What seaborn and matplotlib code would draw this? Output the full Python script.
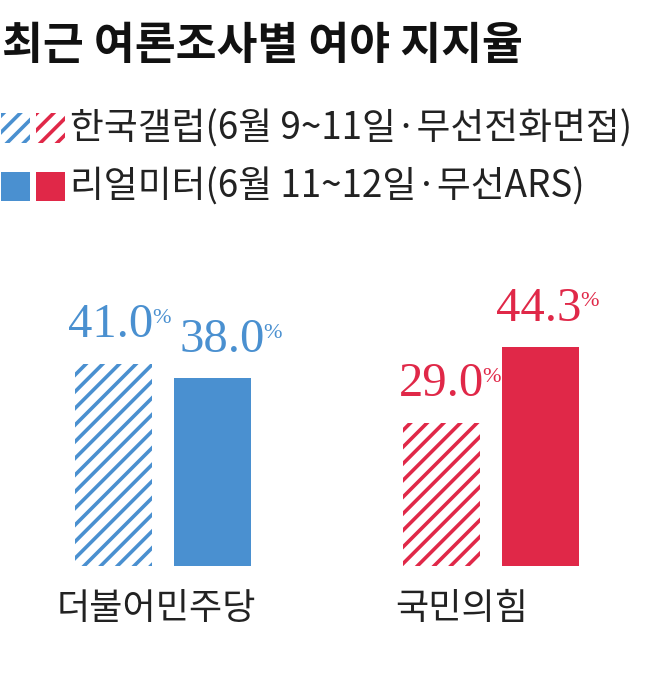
import matplotlib
matplotlib.use('Agg')
import matplotlib.pyplot as plt
import seaborn as sns
import pandas as pd
from matplotlib.patches import Rectangle

# Data
parties = ['더불어민주당', '국민의힘']
surveys = ['한국갤럽', '리얼미터']
gallup = [41.0, 29.0]
realmeter = [38.0, 44.3]
legend_labels = ['한국갤럽(6월 9~11일·무선전화면접)', '리얼미터(6월 11~12일·무선ARS)']
title = '최근 여론조사별 여야 지지율'
party_colors = ['#4A90D0', '#E02848']

W, H = 657, 690

sns.set_theme(style='white')
plt.rcParams['font.family'] = ['Noto Sans CJK KR', 'DejaVu Sans']
plt.rcParams['hatch.linewidth'] = 2.6

df = pd.DataFrame({
    'party': parties * 2,
    'survey': [surveys[0]] * len(parties) + [surveys[1]] * len(parties),
    'value': gallup + realmeter,
})

fig = plt.figure(figsize=(W / 100, H / 100), dpi=100)
ax = fig.add_axes([0, (H - 566) / H, 1, 316 / H])

sns.barplot(data=df, x='party', y='value', hue='survey', width=0.604, gap=0.22,
            saturation=1, legend=False, ax=ax)

# horizontal nudge (points) of the value labels, per survey / party
label_dx = [[-2, 0], [7, -1]]

# Colour by party, hatch the Gallup bars, label every bar
for i, (container, values) in enumerate(zip(ax.containers, [gallup, realmeter])):
    for j, (bar, v) in enumerate(zip(container, values)):
        color = party_colors[j]
        if i == 0:
            bar.set_facecolor('white')
            bar.set_edgecolor(color)
            bar.set_linewidth(0)
            bar.set_hatch('//')
        else:
            bar.set_facecolor(color)
            bar.set_edgecolor('none')
            bar.set_linewidth(0)
        cx = bar.get_x() + bar.get_width() / 2
        t = ax.annotate(f'{v:.1f}', xy=(cx, v), xytext=(label_dx[i][j], 19),
                        textcoords='offset points', ha='center', va='baseline', fontsize=35,
                        family='Liberation Serif', color=color)
        ax.annotate('%', xy=(1, 1), xycoords=t, xytext=(-1, -4), textcoords='offset points',
                    ha='left', va='top', fontsize=16, family='Liberation Serif', color=color)

ax.set_xlim(-0.497, 1.506)
ax.set_ylim(0, 64)
ax.set_xticks([-0.02, 0.91], parties)
ax.set_yticks([])
ax.set_xlabel('')
ax.set_ylabel('')
ax.tick_params(axis='x', length=0, pad=18, labelsize=26, labelcolor='#222222')
sns.despine(ax=ax, left=True, bottom=True)
ax.patch.set_alpha(0)

# Title
fig.text(2 / W, 1 - 46 / H, title, fontsize=32, weight='bold', ha='left', va='center',
         color='#111111')

# Legend built by hand: two swatches per survey
rows_y = [128, 186]
for r, label in enumerate(legend_labels):
    for k, color in enumerate(party_colors):
        x0 = 1 + k * 35
        y0 = rows_y[r] - 14.5
        if r == 0:
            sq = Rectangle((x0 / W, 1 - (y0 + 29) / H), 29 / W, 29 / H,
                           transform=fig.transFigure, facecolor='white', edgecolor=color,
                           linewidth=0, hatch='//')
        else:
            sq = Rectangle((x0 / W, 1 - (y0 + 29) / H), 29 / W, 29 / H,
                           transform=fig.transFigure, facecolor=color, edgecolor='none',
                           linewidth=0)
        fig.add_artist(sq)
    fig.text(70 / W, 1 - (rows_y[r] + 1) / H, label, fontsize=26.5, ha='left', va='center',
             color='#222222')

plt.savefig('out.png', dpi=100)
